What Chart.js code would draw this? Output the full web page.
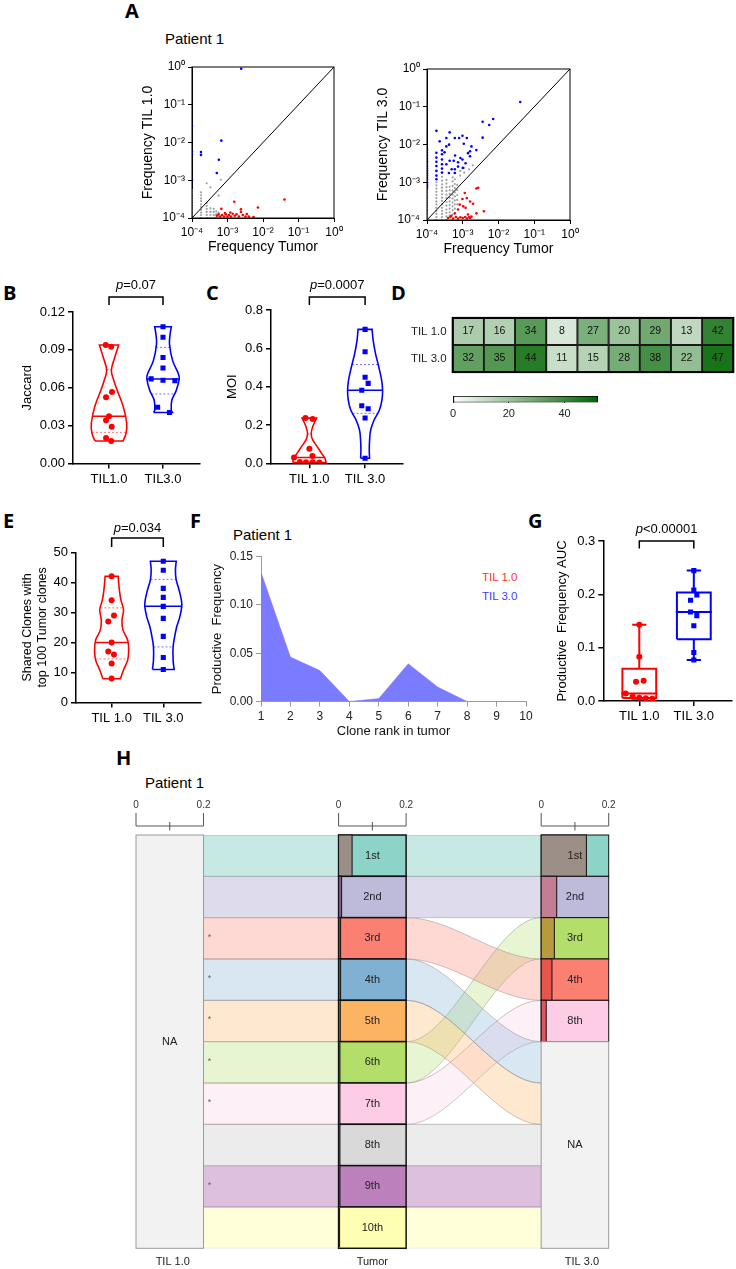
<!DOCTYPE html>
<html>
<head>
<meta charset="utf-8">
<title>TIL 1.0 vs TIL 3.0 clonotype overlap</title>
<script src="https://cdn.jsdelivr.net/npm/chart.js@4.4.0/dist/chart.umd.min.js"></script>
<style>
  html,body{margin:0;padding:0;background:#fff}
  body{position:relative;width:736px;height:1269px;overflow:hidden;font-family:"Liberation Sans",Arial,sans-serif;color:#000}
  canvas{position:absolute}
  .tag{position:absolute;font:bold 20px "Open Sans","Liberation Sans",sans-serif;line-height:1}
  .note{position:absolute;white-space:nowrap;line-height:1}
</style>
</head>
<body>
<div class="tag" style="left:125px;top:1px">A</div>
<div class="tag" style="left:3px;top:283px">B</div>
<div class="tag" style="left:206px;top:283px">C</div>
<div class="tag" style="left:391px;top:283px">D</div>
<div class="tag" style="left:3px;top:511px">E</div>
<div class="tag" style="left:190px;top:511px">F</div>
<div class="tag" style="left:528px;top:511px">G</div>
<div class="tag" style="left:116px;top:748px">H</div>
<div class="note" style="left:165px;top:31px;font-size:15px">Patient 1</div>
<div class="note" style="left:233px;top:527px;font-size:15px">Patient 1</div>
<div class="note" style="left:145px;top:775px;font-size:15px">Patient 1</div>
<div class="note" style="left:482px;top:572px;font-size:11.5px;color:#ff3232">TIL 1.0</div>
<div class="note" style="left:482px;top:591px;font-size:11.5px;color:#3c3cff">TIL 3.0</div>

<script>
// ---------- A: clone frequencies, [tumor, TIL] pairs ----------
const aTicks = [1e-4, 1e-3, 1e-2, 1e-1, 1];

const a1Grey = [
  [1e-4,1.0e-4],[1e-4,1.15e-4],[1e-4,1.3e-4],[1e-4,1.5e-4],[1e-4,1.7e-4],[1e-4,2.0e-4],[1e-4,2.3e-4],
  [1e-4,2.7e-4],[1e-4,3.1e-4],[1e-4,3.6e-4],[1e-4,4.2e-4],[1e-4,4.8e-4],[1e-4,5.5e-4],
  [1.8e-4,1.0e-4],[1.8e-4,1.2e-4],[1.8e-4,1.4e-4],[1.8e-4,1.65e-4],[1.8e-4,1.95e-4],[1.8e-4,2.3e-4],
  [1.8e-4,2.8e-4],[1.8e-4,3.3e-4],[1.8e-4,4.0e-4],[1.8e-4,4.8e-4],
  [2.6e-4,1.0e-4],[2.6e-4,1.2e-4],[2.6e-4,1.45e-4],[2.6e-4,1.75e-4],[2.6e-4,2.1e-4],[2.6e-4,2.5e-4],[2.6e-4,8.3e-4],
  [3.3e-4,1.0e-4],[3.3e-4,1.2e-4],[3.3e-4,1.45e-4],[3.3e-4,1.8e-4],[3.3e-4,6.5e-4],
  [4.1e-4,1.0e-4],[4.1e-4,1.2e-4],[4.1e-4,1.45e-4],[4.1e-4,1.75e-4],
  [4.8e-4,1.0e-4],[4.8e-4,1.25e-4],[4.8e-4,1.5e-4],
  [5.6e-4,1.1e-4],[5.6e-4,1.4e-4],[5.6e-4,3.9e-4],[6.5e-4,1.03e-3]
];
const a1Blue = [
  [2.43e-3,0.90],[1e-4,0.0279],[1e-4,5.8e-3],[1e-4,4.8e-3],[1.79e-4,5.6e-3],[1.79e-4,4.7e-3],
  [6.7e-4,0.0112],[5.7e-4,3.5e-3],[5.0e-4,1.56e-3],[1e-4,1.03e-3]
];
const a1Red = [
  [0.040,3.1e-4],[7.2e-3,1.9e-4],[1.55e-3,2.7e-4],[2.4e-3,1.7e-4],[2.4e-3,1.45e-4],[6.7e-4,1.75e-4],
  [5.0e-4,1.15e-4],[5.6e-4,1.25e-4],[6.3e-4,1.1e-4],[7.0e-4,1.2e-4],[8.0e-4,1.1e-4],[9.0e-4,1.25e-4],
  [1.0e-3,1.1e-4],[1.1e-3,1.2e-4],[1.25e-3,1.1e-4],[1.4e-3,1.3e-4],[1.6e-3,1.15e-4],[1.8e-3,1.25e-4],
  [2.1e-3,1.1e-4],[2.7e-3,1.2e-4],[3.2e-3,1.1e-4],[3.5e-3,1.28e-4],[4.0e-3,1.1e-4],[5.4e-3,1.06e-4],
  [1.2e-3,1.4e-4],[8.5e-4,1.35e-4]
];

const a3Grey = [
  [1e-4,1.0e-4],[1e-4,1.15e-4],[1e-4,1.3e-4],[1e-4,1.5e-4],[1e-4,1.7e-4],[1e-4,2.0e-4],[1e-4,2.3e-4],
  [1e-4,2.7e-4],[1e-4,3.1e-4],[1e-4,3.6e-4],[1e-4,4.2e-4],[1e-4,4.9e-4],[1e-4,5.7e-4],[1e-4,6.6e-4],
  [1.83e-4,1.0e-4],[1.83e-4,1.2e-4],[1.83e-4,1.45e-4],[1.83e-4,1.75e-4],[1.83e-4,2.1e-4],[1.83e-4,2.6e-4],
  [1.83e-4,3.1e-4],[1.83e-4,3.8e-4],[1.83e-4,4.6e-4],[1.83e-4,5.6e-4],[1.83e-4,6.8e-4],[1.83e-4,8.3e-4],[1.83e-4,1.0e-3],
  [2.63e-4,1.0e-4],[2.63e-4,1.2e-4],[2.63e-4,1.45e-4],[2.63e-4,1.75e-4],[2.63e-4,2.1e-4],[2.63e-4,2.6e-4],
  [2.63e-4,3.2e-4],[2.63e-4,3.9e-4],[2.63e-4,4.8e-4],[2.63e-4,5.9e-4],[2.63e-4,7.2e-4],[2.63e-4,8.8e-4],
  [2.63e-4,1.1e-3],[2.63e-4,1.4e-3],
  [3.5e-4,1.0e-4],[3.5e-4,1.25e-4],[3.5e-4,1.55e-4],[3.5e-4,1.9e-4],[3.5e-4,2.4e-4],[3.5e-4,3.0e-4],
  [3.5e-4,3.8e-4],[3.5e-4,4.7e-4],[3.5e-4,5.9e-4],[3.5e-4,7.4e-4],[3.5e-4,9.2e-4],[3.5e-4,1.15e-3],
  [4.3e-4,1.3e-4],[4.3e-4,1.6e-4],[4.3e-4,2.0e-4],[4.3e-4,2.5e-4],[4.3e-4,3.1e-4],[4.3e-4,3.9e-4],
  [4.3e-4,4.9e-4],[4.3e-4,6.1e-4],[4.3e-4,7.6e-4],
  [5.2e-4,1.4e-4],[5.2e-4,1.8e-4],[5.2e-4,2.3e-4],[5.2e-4,2.9e-4],[5.2e-4,3.7e-4],[5.2e-4,4.7e-4],
  [5.2e-4,6.0e-4],[5.2e-4,8.0e-4],[5.2e-4,1.05e-3],[5.2e-4,1.35e-3],
  [6.0e-4,2.0e-4],[6.0e-4,2.6e-4],[6.0e-4,3.3e-4],[6.0e-4,4.2e-4],[6.0e-4,5.4e-4],[6.0e-4,7.0e-4],
  [6.0e-4,9.0e-4],[6.0e-4,1.2e-3],
  [7.0e-4,2.6e-4],[7.0e-4,3.4e-4],[7.0e-4,4.6e-4],[7.0e-4,6.2e-4],[7.0e-4,8.5e-4],
  [8.5e-4,1.5e-3],[8.5e-4,2.0e-3],[1.1e-3,1.8e-3],[1.1e-3,2.4e-3],[1.5e-3,2.2e-3],[1.9e-3,2.8e-3]
];
const a3Blue = [
  [1e-4,7.0e-4],[1e-4,8.0e-4],[1e-4,9.0e-4],[1e-4,1.0e-3],[1e-4,1.15e-3],[1e-4,1.3e-3],[1e-4,1.5e-3],
  [1e-4,1.7e-3],[1e-4,2.0e-3],[1e-4,2.3e-3],[1e-4,2.7e-3],[1e-4,3.1e-3],[1e-4,3.6e-3],[1e-4,4.2e-3],
  [1e-4,5.0e-3],[1e-4,6.0e-3],[1e-4,7.2e-3],
  [1.83e-4,1.2e-3],[1.83e-4,1.5e-3],[1.83e-4,2.0e-3],[1.83e-4,2.7e-3],[1.83e-4,3.5e-3],[1.83e-4,4.5e-3],
  [1.83e-4,6.0e-3],[1.83e-4,0.023],
  [2.63e-4,1.8e-3],[2.63e-4,2.3e-3],[2.63e-4,3.0e-3],[2.63e-4,4.0e-3],[2.63e-4,5.5e-3],[2.63e-4,7.0e-3],
  [3.48e-4,0.0149],[3.48e-4,8.9e-3],[4.3e-4,0.0209],[4.1e-4,1.76e-3],[4.14e-4,9.9e-3],[4.3e-4,3.7e-3],
  [5.6e-4,3.7e-3],[6.1e-4,5.1e-3],[6.0e-4,1.76e-3],[6.0e-4,2.2e-3],[7.4e-4,2.6e-3],[7.9e-4,0.0149],
  [9.8e-4,0.0171],[9.8e-4,4.0e-3],[1.07e-3,0.0105],[1.2e-3,3.2e-3],[1.3e-3,0.0149],[1.4e-3,5.9e-3],
  [1.6e-3,4.9e-3],[1.75e-3,8.9e-3],[1.6e-3,6.6e-3],[2.4e-3,7.1e-3],[3.6e-3,0.0152],[3.6e-3,0.040],
  [5.5e-3,0.0328],[7.1e-3,0.0472],[0.0405,0.134],[3.1e-4,6.2e-3],[2.26e-4,0.0121],[6.0e-4,0.0149],
  [3.48e-4,3.0e-3],[7.4e-4,3.4e-3],[8.6e-4,4.4e-3],[4.9e-4,2.2e-3],[1.0e-3,2.4e-3]
];
const a3Red = [
  [2.7e-3,7.1e-4],[2.4e-3,6.8e-4],[1.14e-3,5.2e-4],[1.3e-3,3.8e-4],[9.8e-4,3.6e-4],[1.6e-3,3.1e-4],
  [1.95e-3,2.7e-4],[1.03e-3,2.3e-4],[1.2e-3,2.1e-4],[8.2e-4,2.55e-4],[7.4e-4,1.9e-4],[3.9e-3,1.7e-4],
  [2.4e-3,1.5e-4],[6.0e-4,1.5e-4],[4.8e-4,1.3e-4],[1.4e-3,1.4e-4],[1.6e-3,1.13e-4],
  [3.9e-4,1.13e-4],[4.5e-4,1.2e-4],[5.4e-4,1.1e-4],[6.4e-4,1.2e-4],[7.4e-4,1.1e-4],[8.6e-4,1.18e-4],
  [1.0e-3,1.13e-4],[1.17e-3,1.2e-4],[1.3e-3,1.1e-4],[1.5e-3,1.18e-4],[1.75e-3,1.23e-4]
];

// ---------- B, C: Jaccard and MOI per patient ----------
const bTicks = [0, 0.03, 0.06, 0.09, 0.12];
const bTil1 = [0.0939, 0.0925, 0.0566, 0.0524, 0.0375, 0.0343, 0.0291, 0.0202, 0.0178];
const bTil3 = [0.1083, 0.1000, 0.0840, 0.0757, 0.0670, 0.0660, 0.0655, 0.0446, 0.0404];
const bJit1 = [-0.06, 0.04, 0.055, -0.055, 0, -0.055, 0.05, -0.055, 0.04];
const bJit3 = [0, 0, 0, 0, -0.22, 0, 0.22, -0.1, 0.12];
const bLv1 = [0.0178, 0.0239, 0.0318, 0.0448, 0.0579, 0.065, 0.0737, 0.0841, 0.0939];
const bWd1 = [0.26, 0.316, 0.328, 0.266, 0.153, 0.095, 0.043, 0.107, 0.178];
const bLv3 = [0.0404, 0.0422, 0.0501, 0.0579, 0.0671, 0.0711, 0.0815, 0.0946, 0.1020, 0.1083];
const bWd3 = [0.175, 0.153, 0.163, 0.245, 0.30, 0.285, 0.178, 0.12, 0.13, 0.153];

const cTicks = [0, 0.2, 0.4, 0.6, 0.8];
const cTil1 = [0.236, 0.231, 0.076, 0.038, 0.030, 0.007, 0.006, 0.005, 0.004];
const cTil3 = [0.699, 0.582, 0.449, 0.417, 0.381, 0.300, 0.285, 0.236, 0.026];
const cJit1 = [-0.07, 0.06, 0, 0.055, -0.275, -0.17, -0.06, 0.06, 0.18];
const cJit3 = [0, 0, 0, 0.055, -0.06, -0.06, 0.055, 0, 0];
const cLv1 = [0.004, 0.026, 0.052, 0.087, 0.122, 0.156, 0.191, 0.236];
const cWd1 = [0.30, 0.28, 0.22, 0.14, 0.06, 0.033, 0.06, 0.13];
const cLv3 = [0.026, 0.069, 0.122, 0.174, 0.226, 0.278, 0.330, 0.381, 0.435, 0.504, 0.574, 0.643, 0.699];
const cWd3 = [0.08, 0.075, 0.081, 0.10, 0.162, 0.257, 0.302, 0.314, 0.296, 0.245, 0.186, 0.144, 0.126];

// ---------- D, E: shared clones with top-100 tumor clones ----------
const patients = ['P1', 'P2', 'P3', 'P4', 'P5', 'P6', 'P7', 'P8', 'P9'];
const dRows = ['TIL 1.0', 'TIL 3.0'];
const shared1 = [17, 16, 34, 8, 27, 20, 29, 13, 42];
const shared3 = [32, 35, 44, 11, 15, 28, 38, 22, 47];
const cbTicks = [0, 20, 40];
const cbMax = 52;

const eTicks = [0, 10, 20, 30, 40, 50];
const eJit1 = [0, 0, 0.045, -0.065, 0, -0.065, 0.045, 0, 0];   // by descending value
const eJit3 = [0, 0, 0, 0, 0, 0, 0, 0, 0];
const eLv1 = [7.9, 10.8, 14.1, 17.4, 20.8, 24.1, 27.4, 30.8, 34.1, 37.4, 42];
const eWd1 = [0.17, 0.23, 0.31, 0.33, 0.31, 0.22, 0.20, 0.23, 0.18, 0.15, 0.126];
const eLv3 = [11, 14.1, 18.5, 21.9, 25.2, 28.5, 32, 34.1, 37.4, 41, 44.1, 47];
const eWd3 = [0.21, 0.19, 0.19, 0.22, 0.26, 0.32, 0.358, 0.35, 0.306, 0.248, 0.235, 0.25];

// ---------- F: productive frequency of top-10 tumor clones ----------
const fRank = [1, 2, 3, 4, 5, 6, 7, 8, 9, 10];
const fTil1 = [0, 0, 0, 0, 0, 0, 0, 0, 0, 0];
const fTil3 = [0.134, 0.046, 0.032, 0, 0.003, 0.039, 0.015, 0, 0, 0];
const fTicks = [0, 0.05, 0.10, 0.15];

// ---------- G: AUC ----------
const gTicks = [0, 0.1, 0.2, 0.3];
const gTil1 = [0.143, 0.083, 0.038, 0.036, 0.014, 0.008, 0.006, 0.005, 0.004];
const gTil3 = [0.2445, 0.208, 0.199, 0.189, 0.167, 0.160, 0.141, 0.091, 0.077];
const gJit1 = [0, 0, 0.08, -0.06, -0.25, -0.12, 0, 0.12, 0.24];
const gJit3 = [0, 0, 0.055, -0.06, -0.06, 0.055, 0, 0, 0];

// ---------- H: alluvial of top-10 tumor clones ----------
const tumorRanks = ['1st', '2nd', '3rd', '4th', '5th', '6th', '7th', '8th', '9th', '10th'];
const tumorFreq = [0.040, 0.009, 0.006, 0.006, 0.005, 0.004, 0.004, 0.004, 0.004, 0.003];
const til3Slot = [0, 1, 3, 5, 6, 2, 4, 7, 8, 9];        // row of each tumor clone in TIL 3.0 column
const til3Ranks = ['1st', '2nd', '3rd', '4th', '8th'];  // detected clones in TIL 3.0
const hMarked = [false, false, true, true, true, true, true, false, true, false];

const set3 = ['#8dd3c7', '#bebada', '#fb8072', '#80b1d3', '#fdb462', '#b3de69', '#fccde5', '#d9d9d9', '#bc80bd', '#ffffb3'];
const tumorSegColors = ['#9b8f87', '#7e5f86', '#9c3f37', '#3f607d', '#9a6a2e', '#5e7d2f', '#a76a8a', '#6e6e6e', '#6c456d', '#8e8e4e'];
const til3SegColors = ['#9b8f87', '#c47e93', '#b89a3e', '#e8554a', '#e25560'];

// ================= helpers =================
Chart.defaults.font.family = '"Liberation Sans", Arial, sans-serif';
Chart.defaults.color = '#000';
Chart.defaults.animation = false;
Chart.defaults.events = [];
Chart.defaults.plugins.legend.display = false;
Chart.defaults.plugins.tooltip.enabled = false;
const FAM = '"Liberation Sans", Arial, sans-serif';

function canvasAt(l, t, w, h) {
  const c = document.createElement('canvas');
  c.width = w; c.height = h;
  Object.assign(c.style, {left: l + 'px', top: t + 'px', width: w + 'px', height: h + 'px'});
  document.body.appendChild(c);
  return c;
}
const fixW = w => s => { s.width = w; };
const fixH = h => s => { s.height = h; };

function rgba(hex, a) {
  const n = parseInt(hex.slice(1), 16);
  return `rgba(${n >> 16},${(n >> 8) & 255},${n & 255},${a})`;
}

const SUP = {'-': '⁻', '0': '⁰', '1': '¹', '2': '²', '3': '³', '4': '⁴'};
const pow10 = v => '10' + String(Math.round(Math.log10(v))).split('').map(ch => SUP[ch]).join('');

function quant(vals) {
  const s = [...vals].sort((a, b) => a - b);
  const at = p => {
    const pos = (s.length + 1) * p, lo = Math.floor(pos), f = pos - lo;
    const a = s[Math.max(lo - 1, 0)], b = s[Math.min(lo, s.length - 1)];
    return a + f * (b - a);
  };
  return {min: s[0], q1: at(0.25), med: at(0.5), q3: at(0.75), max: s[s.length - 1]};
}
function widthAt(lv, wd, v) {
  for (let i = 1; i < lv.length; i++) {
    if (v <= lv[i]) { const f = (v - lv[i - 1]) / (lv[i] - lv[i - 1]); return wd[i - 1] + f * (wd[i] - wd[i - 1]); }
  }
  return wd[wd.length - 1];
}

const framePlugin = {
  id: 'frame',
  afterDraw(chart) {
    const {ctx, chartArea: a} = chart;
    ctx.save(); ctx.strokeStyle = '#000'; ctx.lineWidth = 1;
    ctx.strokeRect(a.left, a.top, a.right - a.left, a.bottom - a.top);
    ctx.restore();
  }
};

const bracketPlugin = {
  id: 'bracket',
  afterDraw(chart, args, o) {
    if (!o || !o.text) return;
    const {ctx, chartArea: a, scales: {x}} = chart;
    const x1 = x.getPixelForValue(1), x2 = x.getPixelForValue(2);
    const yb = a.top - o.lift, yd = yb + o.drop;
    ctx.save();
    ctx.strokeStyle = '#000'; ctx.lineWidth = 1.5;
    ctx.beginPath(); ctx.moveTo(x1, yd); ctx.lineTo(x1, yb); ctx.lineTo(x2, yb); ctx.lineTo(x2, yd); ctx.stroke();
    ctx.font = `italic 13px ${FAM}`; const w1 = ctx.measureText('p').width;
    ctx.font = `13px ${FAM}`; const w2 = ctx.measureText(o.text).width;
    let sx = (x1 + x2) / 2 - (w1 + w2) / 2;
    const ty = yb - o.gap;
    ctx.fillStyle = '#000'; ctx.textBaseline = 'middle'; ctx.textAlign = 'left';
    ctx.font = `italic 13px ${FAM}`; ctx.fillText('p', sx, ty);
    ctx.font = `13px ${FAM}`; ctx.fillText(o.text, sx + w1, ty);
    ctx.restore();
  }
};

// ================= A =================
function logAxis(title, fitter) {
  return {
    type: 'logarithmic', min: 1e-4, max: 1,
    afterBuildTicks: s => { s.ticks = aTicks.map(v => ({value: v})); },
    ticks: {callback: v => pow10(v), font: {size: 12}, color: '#000', padding: 3, autoSkip: false, maxRotation: 0},
    grid: {display: true, drawOnChartArea: false, color: '#000', lineWidth: 1, tickLength: 4},
    border: {color: '#000', width: 1},
    title: {display: true, text: title, font: {size: 14}, color: '#000', padding: {top: 4, bottom: 4}},
    afterFit: fitter
  };
}
function freqScatter(canvas, grey, blue, red, ytitle, pad) {
  const pts = arr => arr.map(([x, y]) => ({x, y}));
  const dots = (arr, color, r, order) => ({
    data: pts(arr), backgroundColor: color, pointBackgroundColor: color, pointBorderWidth: 0, pointRadius: r, order
  });
  return new Chart(canvas, {
    type: 'scatter',
    data: {datasets: [
      {data: [{x: 1e-4, y: 1e-4}, {x: 1, y: 1}], showLine: true, borderColor: '#000', borderWidth: 1, pointRadius: 0, order: 0},
      dots(blue, '#0000ff', 1.3, 1),
      dots(red, '#ff0000', 1.3, 1),
      dots(grey, '#a0a0a0', 1.1, 2)
    ]},
    options: {
      responsive: false, layout: {padding: pad},
      scales: {x: logAxis('Frequency Tumor', fixH(42)), y: logAxis(ytitle, fixW(56))}
    },
    plugins: [framePlugin]
  });
}
freqScatter(canvasAt(136, 50, 215, 210), a1Grey, a1Blue, a1Red, 'Frequency TIL 1.0', {top: 17, right: 17});
freqScatter(canvasAt(371, 52, 219, 210), a3Grey, a3Blue, a3Red, 'Frequency TIL 3.0', {top: 17, right: 20});

// ================= violin / box charts =================
function catAxis(labels, min, max, h) {
  return {
    type: 'linear', min, max,
    afterBuildTicks: s => { s.ticks = labels.map((_, i) => ({value: i + 1})); },
    ticks: {callback: v => labels[Math.round(v) - 1], font: {size: 13}, color: '#000', padding: 3, maxRotation: 0, autoSkip: false},
    grid: {display: true, drawOnChartArea: false, color: '#000', lineWidth: 1.5, tickLength: 5},
    border: {color: '#000', width: 1.5},
    afterFit: fixH(h)
  };
}
function valAxis(ticks, fmt, title, w, titleSize) {
  return {
    type: 'linear', min: ticks[0], max: ticks[ticks.length - 1],
    afterBuildTicks: s => { s.ticks = ticks.map(v => ({value: v})); },
    ticks: {callback: v => fmt(v), font: {size: 13}, color: '#000', padding: 3},
    grid: {display: true, drawOnChartArea: false, color: '#000', lineWidth: 1.5, tickLength: 5},
    border: {color: '#000', width: 1.5},
    title: {display: true, text: title, font: {size: titleSize || 13}, color: '#000', padding: {top: 4, bottom: 4}},
    afterFit: fixW(w)
  };
}
function dotSet(c, vals, jit, color, shape, r) {
  return {data: vals.map((v, i) => ({x: c + jit[i], y: v})), showLine: false, pointStyle: shape, pointRadius: r,
    pointBackgroundColor: color, pointBorderColor: color, pointBorderWidth: 0, order: 0};
}
function violinSets(c, g) {
  const L = g.lv.map((v, i) => ({x: c - g.wd[i], y: v}));
  const R = g.lv.map((v, i) => ({x: c + g.wd[i], y: v})).reverse();
  const outline = [...L, L[L.length - 1], R[0], ...R, R[R.length - 1], L[0], L[0]];
  const q = quant(g.vals);
  const across = v => { const w = widthAt(g.lv, g.wd, v); return [{x: c - w, y: v}, {x: c + w, y: v}]; };
  const seg = (data, color, w, dash) => ({data, borderColor: color, borderWidth: w, borderDash: dash || [], pointRadius: 0, tension: 0, fill: false, order: 2});
  return [
    {data: outline, borderColor: g.color, borderWidth: 1.6, pointRadius: 0, tension: 0.35, fill: false, order: 3},
    seg(across(q.med), g.color, 1.5),
    seg(across(q.q1), g.soft, 1, [2, 2]),
    seg(across(q.q3), g.soft, 1, [2, 2]),
    dotSet(c, g.vals, g.jit, g.color, g.shape, g.r)
  ];
}
function boxSets(c, g) {
  const q = quant(g.vals), hw = 0.31, cw = 0.13, mw = 0.33;
  const ln = data => ({data, borderColor: g.color, borderWidth: 2, pointRadius: 0, fill: false, tension: 0, order: 1});
  return [
    ln([{x: c - hw, y: q.q1}, {x: c + hw, y: q.q1}, {x: c + hw, y: q.q3}, {x: c - hw, y: q.q3}, {x: c - hw, y: q.q1}]),
    ln([{x: c - mw, y: q.med}, {x: c + mw, y: q.med}]),
    ln([{x: c, y: q.min}, {x: c, y: q.q1}, {x: c, y: null}, {x: c, y: q.q3}, {x: c, y: q.max}]),
    ln([{x: c - cw, y: q.min}, {x: c + cw, y: q.min}, {x: c, y: null}, {x: c - cw, y: q.max}, {x: c + cw, y: q.max}]),
    dotSet(c, g.vals, g.jit, g.color, g.shape, g.r)
  ];
}
function groupChart(canvas, o) {
  const sets = [];
  o.groups.forEach((g, k) => sets.push(...(o.box ? boxSets(k + 1, g) : violinSets(k + 1, g))));
  return new Chart(canvas, {
    type: 'line',
    data: {datasets: sets},
    options: {
      responsive: false, layout: {padding: o.pad},
      scales: {x: catAxis(o.xLabels, o.xMin, o.xMax, o.xH), y: valAxis(o.yTicks, o.fmt, o.title, o.yW, o.titleSize)},
      plugins: {bracket: o.bracket}
    },
    plugins: [bracketPlugin]
  });
}
const RED = '#ff0000', BLUE = '#0000ff', SOFTR = 'rgba(255,0,0,0.55)', SOFTB = 'rgba(0,0,255,0.55)';
const desc = a => [...a].sort((x, y) => y - x);

// B
groupChart(canvasAt(16, 270, 194, 225), {
  groups: [
    {vals: bTil1, jit: bJit1, lv: bLv1, wd: bWd1, color: RED, soft: SOFTR, shape: 'circle', r: 3},
    {vals: bTil3, jit: bJit3, lv: bLv3, wd: bWd3, color: BLUE, soft: SOFTB, shape: 'rect', r: 3.6}
  ],
  xLabels: ['TIL1.0', 'TIL3.0'], xMin: 0.333, xMax: 2.685, xH: 31.5,
  yTicks: bTicks, fmt: v => v.toFixed(2), title: 'Jaccard', yW: 57,
  pad: {top: 42, right: 10},
  bracket: {text: '=0.07', lift: 15, drop: 8, gap: 12}
});
// C
groupChart(canvasAt(221, 270, 192, 225), {
  groups: [
    {vals: cTil1, jit: cJit1, lv: cLv1, wd: cWd1, color: RED, soft: SOFTR, shape: 'circle', r: 3},
    {vals: cTil3, jit: cJit3, lv: cLv3, wd: cWd3, color: BLUE, soft: SOFTB, shape: 'rect', r: 3.6}
  ],
  xLabels: ['TIL 1.0', 'TIL 3.0'], xMin: 0.312, xMax: 2.68, xH: 31.7,
  yTicks: cTicks, fmt: v => v.toFixed(1), title: 'MOI', yW: 50,
  pad: {top: 40, right: 10},
  bracket: {text: '=0.0007', lift: 13, drop: 8, gap: 12}
});
// E
groupChart(canvasAt(16, 505, 195, 230), {
  groups: [
    {vals: desc(shared1), jit: eJit1, lv: eLv1, wd: eWd1, color: RED, soft: SOFTR, shape: 'circle', r: 3},
    {vals: desc(shared3), jit: eJit3, lv: eLv3, wd: eWd3, color: BLUE, soft: SOFTB, shape: 'rect', r: 3.6}
  ],
  xLabels: ['TIL 1.0', 'TIL 3.0'], xMin: 0.31, xMax: 2.73, xH: 32.5,
  yTicks: eTicks, fmt: v => String(v), title: ['Shared Clones with', 'top 100 Tumor clones'], titleSize: 12.5, yW: 60,
  pad: {top: 47.3, right: 10},
  bracket: {text: '=0.034', lift: 14.3, drop: 9, gap: 10}
});
// G
groupChart(canvasAt(551, 505, 185, 230), {
  box: true,
  groups: [
    {vals: gTil1, jit: gJit1, color: RED, shape: 'circle', r: 3},
    {vals: gTil3, jit: gJit3, color: BLUE, shape: 'rect', r: 3.6}
  ],
  xLabels: ['TIL 1.0', 'TIL 3.0'], xMin: 0.34, xMax: 2.7, xH: 34,
  yTicks: gTicks, fmt: v => v.toFixed(1), title: 'Productive  Frequency AUC', yW: 52.3,
  pad: {top: 36, right: 2},
  bracket: {text: '<0.00001', lift: 0, drop: 7.5, gap: 11.7}
});

// ================= D: heatmap + colour bar =================
const LOW = [255, 255, 255], HIGH = [0, 100, 0];
function heatColor(v) {
  const t = Math.min(v / cbMax, 1);
  const c = LOW.map((l, i) => Math.round(l + (HIGH[i] - l) * t));
  return `rgb(${c[0]},${c[1]},${c[2]})`;
}
const cellText = {
  id: 'cellText',
  afterDatasetsDraw(chart) {
    const {ctx, chartArea: a} = chart;
    ctx.save();
    ctx.font = `10.5px ${FAM}`; ctx.fillStyle = '#111'; ctx.textAlign = 'center'; ctx.textBaseline = 'middle';
    chart.data.datasets.forEach((ds, di) => {
      chart.getDatasetMeta(di).data.forEach((el, i) => {
        const p = el.getCenterPoint();
        ctx.fillText(String(ds.vals[i]), p.x, p.y);
      });
    });
    ctx.strokeStyle = '#000'; ctx.lineWidth = 2;
    ctx.strokeRect(a.left, a.top, a.right - a.left, a.bottom - a.top);
    ctx.restore();
  }
};
new Chart(canvasAt(400, 305, 336, 80), {
  type: 'bar',
  data: {
    labels: patients,
    datasets: [shared1, shared3].map((vals, r) => ({
      data: vals.map(() => [r, r + 1]), vals,
      backgroundColor: vals.map(heatColor), borderColor: '#1a1a1a', borderWidth: 1.3, borderSkipped: false,
      barPercentage: 1, categoryPercentage: 1, grouped: false
    }))
  },
  options: {
    responsive: false, layout: {padding: {top: 6.7, right: 2.7, bottom: 6}},
    scales: {
      x: {display: false},
      y: {type: 'linear', min: 0, max: 2, reverse: true,
        afterBuildTicks: s => { s.ticks = dRows.map((_, i) => ({value: i + 0.5})); },
        ticks: {callback: v => dRows[Math.round(v - 0.5)], font: {size: 11.5}, color: '#222', padding: 6},
        grid: {display: false, drawTicks: false}, border: {display: false}, afterFit: fixW(52.7)}
    }
  },
  plugins: [cellText]
});

new Chart(canvasAt(440, 388, 170, 40), {
  type: 'bar',
  data: {labels: ['scale'], datasets: [{
    data: [[0, cbMax]],
    backgroundColor: ctx => {
      const {chart} = ctx; const a = chart.chartArea;
      if (!a) return '#888';
      const x = chart.scales.x;
      const g = chart.ctx.createLinearGradient(x.getPixelForValue(0), 0, x.getPixelForValue(cbMax), 0);
      g.addColorStop(0, heatColor(0)); g.addColorStop(1, heatColor(cbMax));
      return g;
    },
    borderColor: '#000', borderWidth: 1, borderSkipped: false, barPercentage: 1, categoryPercentage: 1
  }]},
  options: {
    responsive: false, indexAxis: 'y',
    layout: {padding: {left: 13, right: 12, top: 8}},
    scales: {
      y: {display: false},
      x: {type: 'linear', min: 0, max: cbMax, z: 1,
        afterBuildTicks: s => { s.ticks = cbTicks.map(v => ({value: v})); },
        ticks: {font: {size: 11}, color: '#222', padding: 5},
        grid: {display: true, drawOnChartArea: true, drawTicks: false, color: '#333', lineWidth: 1},
        border: {display: false}, afterFit: fixH(25.5)}
    }
  }
});

// ================= F: area chart =================
new Chart(canvasAt(206, 545, 330, 198), {
  type: 'line',
  data: {datasets: [
    {label: 'TIL 1.0', data: fRank.map((x, i) => ({x, y: fTil1[i]})), fill: 'origin',
      backgroundColor: 'rgba(255,80,80,0.35)', borderColor: 'rgba(255,120,120,0.5)', borderWidth: 1, pointRadius: 0, order: 0},
    {label: 'TIL 3.0', data: fRank.map((x, i) => ({x, y: fTil3[i]})), fill: 'origin',
      backgroundColor: '#7b7bff', borderColor: '#7b7bff', borderWidth: 0.5, pointRadius: 0, order: 1}
  ]},
  options: {
    responsive: false, layout: {padding: {top: 11.7, right: 10}},
    scales: {
      x: {type: 'linear', min: 1, max: 10,
        afterBuildTicks: s => { s.ticks = fRank.map(v => ({value: v})); },
        ticks: {font: {size: 12}, color: '#222', padding: 3},
        grid: {display: true, drawOnChartArea: false, color: '#9a9a9a', tickLength: 5},
        border: {color: '#9a9a9a'},
        title: {display: true, text: 'Clone rank in tumor', font: {size: 13}, color: '#111', padding: {top: 4, bottom: 4}},
        afterFit: fixH(41.5)},
      y: {type: 'linear', min: 0, max: 0.15,
        afterBuildTicks: s => { s.ticks = fTicks.map(v => ({value: v})); },
        ticks: {callback: v => v.toFixed(2), font: {size: 12}, color: '#222', padding: 3},
        grid: {display: true, drawOnChartArea: false, color: '#9a9a9a', tickLength: 5},
        border: {color: '#9a9a9a'},
        title: {display: true, text: 'Productive  Frequency', font: {size: 13}, color: '#111', padding: {top: 4, bottom: 4}},
        afterFit: fixW(55)}
    }
  }
});

// ================= H: alluvial =================
const colX = [0, 0.6, 1.2], colW = 0.2;
function bandSets(x0, x1, r0, r1, fillColor) {
  const edge = (a, b) => [{x: x0, y: a}, {x: x0 + 0.002, y: a}, {x: x1 - 0.002, y: b}, {x: x1, y: b}];
  const common = {pointRadius: 0, borderColor: 'rgba(150,150,150,0.55)', borderWidth: 1, cubicInterpolationMode: 'monotone', order: 5};
  return [
    {...common, data: edge(r0, r1), fill: '+1', backgroundColor: fillColor},
    {...common, data: edge(r0 + 1, r1 + 1), fill: false}
  ];
}
const hSets = [];
tumorRanks.forEach((lab, i) => {
  const moved = til3Slot[i] !== i;
  const col = rgba(set3[i], moved ? 0.3 : 0.5);
  hSets.push(...bandSets(colX[0] + colW, colX[1], i, i, col));
  hSets.push(...bandSets(colX[1] + colW, colX[2], i, til3Slot[i], col));
});

const alluvialPlugin = {
  id: 'alluvial',
  afterDatasetsDraw(chart) {
    const {ctx, chartArea: a, scales: {x, y}} = chart;
    const X = v => x.getPixelForValue(v), Y = v => y.getPixelForValue(v);
    const rect = (x0, x1, y0, y1, fill, stroke, lw) => {
      ctx.fillStyle = fill; ctx.fillRect(X(x0), Y(y0), X(x1) - X(x0), Y(y1) - Y(y0));
      ctx.strokeStyle = stroke; ctx.lineWidth = lw; ctx.strokeRect(X(x0), Y(y0), X(x1) - X(x0), Y(y1) - Y(y0));
    };
    const text = (t, px, py, size, color) => {
      ctx.font = `${size}px ${FAM}`; ctx.fillStyle = color; ctx.textAlign = 'center'; ctx.textBaseline = 'middle';
      ctx.fillText(t, px, py);
    };
    ctx.save();
    const nRows = tumorRanks.length;
    // TIL 1.0 column: nothing detected
    rect(colX[0], colX[0] + colW, 0, nRows, '#f2f2f2', '#9a9a9a', 1);
    text('NA', X(colX[0] + colW / 2), Y(nRows / 2), 11, '#222');
    // tumor column
    tumorRanks.forEach((lab, i) => {
      rect(colX[1], colX[1] + colW, i, i + 1, set3[i], '#111', 1.5);
      rect(colX[1], colX[1] + tumorFreq[i], i, i + 1, tumorSegColors[i], '#111', 1);
      text(lab, X(colX[1] + colW / 2), Y(i + 0.5), 11, '#222');
    });
    // TIL 3.0 column
    til3Ranks.forEach((lab, s) => {
      const i = til3Slot.indexOf(s);
      rect(colX[2], colX[2] + colW, s, s + 1, set3[i], '#111', 1);
      rect(colX[2], colX[2] + fTil3[i], s, s + 1, til3SegColors[s], '#111', 1);
      text(lab, X(colX[2] + colW / 2), Y(s + 0.5), 11, '#222');
    });
    rect(colX[2], colX[2] + colW, til3Ranks.length, nRows, '#f2f2f2', '#9a9a9a', 1);
    text('NA', X(colX[2] + colW / 2), Y((til3Ranks.length + nRows) / 2), 11, '#222');
    // asterisks
    hMarked.forEach((m, i) => { if (m) text('*', X(colX[0] + colW) + 6, Y(i) + 0.47 * (Y(1) - Y(0)), 9, '#666'); });
    // frequency scale bars
    ctx.strokeStyle = '#555'; ctx.lineWidth = 1;
    colX.forEach(c0 => {
      text('0', X(c0), a.top - 30, 10, '#333');
      text('0.2', X(c0 + colW), a.top - 30, 10, '#333');
      ctx.beginPath();
      ctx.moveTo(X(c0), a.top - 22); ctx.lineTo(X(c0), a.top - 9); ctx.lineTo(X(c0 + colW), a.top - 9); ctx.lineTo(X(c0 + colW), a.top - 22);
      ctx.moveTo(X(c0 + colW / 2), a.top - 13); ctx.lineTo(X(c0 + colW / 2), a.top - 4.5);
      ctx.stroke();
    });
    // column titles
    ['TIL 1.0', 'Tumor', 'TIL 3.0'].forEach((t, k) => text(t, X(colX[k] + colW / 2) + [3, 0, 7][k], a.bottom + 14, 11, '#222'));
    ctx.restore();
  }
};

new Chart(canvasAt(100, 740, 560, 529), {
  type: 'line',
  data: {datasets: hSets},
  options: {
    responsive: false,
    layout: {padding: {left: 36, right: 51.3, top: 95, bottom: 20.7}},
    scales: {
      x: {type: 'linear', min: 0, max: 1.4, display: false},
      y: {type: 'linear', min: 0, max: 10, reverse: true, display: false}
    }
  },
  plugins: [alluvialPlugin]
});
</script>
</body>
</html>
